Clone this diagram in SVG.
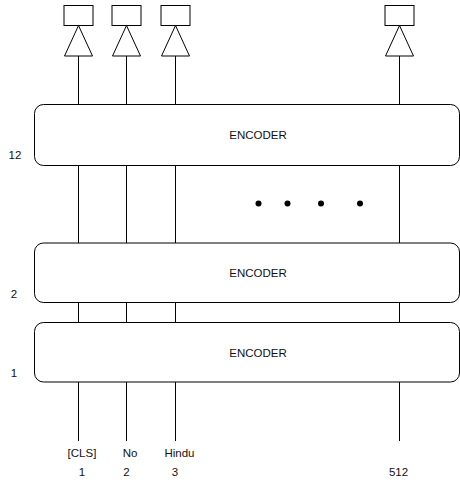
<svg xmlns="http://www.w3.org/2000/svg" width="460" height="482" viewBox="0 0 460 482">
<style>
.ln{stroke:#000;stroke-width:1;fill:none}
.enc{fill:#fff;stroke:#000;stroke-width:1}
.out{fill:#fff;stroke:#000;stroke-width:1}
.tri{fill:#fff;stroke:#000;stroke-width:1}
text{font-family:"Liberation Sans",Arial,Helvetica,sans-serif;font-size:11.5px;fill:#111}
.c{text-anchor:middle}
</style>
<rect width="460" height="482" fill="#fff"/>
<g id="connectors">
<line class="ln" x1="78.5" y1="56" x2="78.5" y2="441"/>
<line class="ln" x1="126.5" y1="56" x2="126.5" y2="441"/>
<line class="ln" x1="175.5" y1="56" x2="175.5" y2="441"/>
<line class="ln" x1="399.5" y1="56" x2="399.5" y2="441"/>
</g>
<g id="outputs">
<g id="out1"><rect class="out" x="64" y="5.5" width="29" height="20"/><polygon class="tri" points="78.5,25.5 64.5,56 92.5,56"/></g>
<g id="out2"><rect class="out" x="112" y="5.5" width="29" height="20"/><polygon class="tri" points="126.5,25.5 112.5,56 140.5,56"/></g>
<g id="out3"><rect class="out" x="161" y="5.5" width="29" height="20"/><polygon class="tri" points="175.5,25.5 161.5,56 189.5,56"/></g>
<g id="out512"><rect class="out" x="385" y="5.5" width="29" height="20"/><polygon class="tri" points="399.5,25.5 385.5,56 413.5,56"/></g>
</g>
<g id="encoder12"><rect class="enc" x="34.5" y="104.5" width="425" height="61" rx="9"/><text class="c" x="258" y="139">ENCODER</text><text class="c" x="15" y="159">12</text></g>
<g id="dots"><circle cx="258.5" cy="203.5" r="3"/><circle cx="287.5" cy="203.5" r="3"/><circle cx="321" cy="203.5" r="3"/><circle cx="360" cy="203.5" r="3"/></g>
<g id="encoder2"><rect class="enc" x="34.5" y="243" width="425" height="59.5" rx="9"/><text class="c" x="258" y="277">ENCODER</text><text class="c" x="14" y="298">2</text></g>
<g id="encoder1"><rect class="enc" x="34.5" y="322.5" width="425" height="59.5" rx="9"/><text class="c" x="258" y="356.5">ENCODER</text><text class="c" x="14" y="377">1</text></g>
<g id="inputs">
<text class="c" x="82" y="456.5">[CLS]</text>
<text class="c" x="130" y="456.5">No</text>
<text class="c" x="179.5" y="456.5">Hindu</text>
<text class="c" x="82" y="475.5">1</text>
<text class="c" x="126.5" y="475.5">2</text>
<text class="c" x="175" y="475.5">3</text>
<text class="c" x="398.5" y="475.5">512</text>
</g>
</svg>
